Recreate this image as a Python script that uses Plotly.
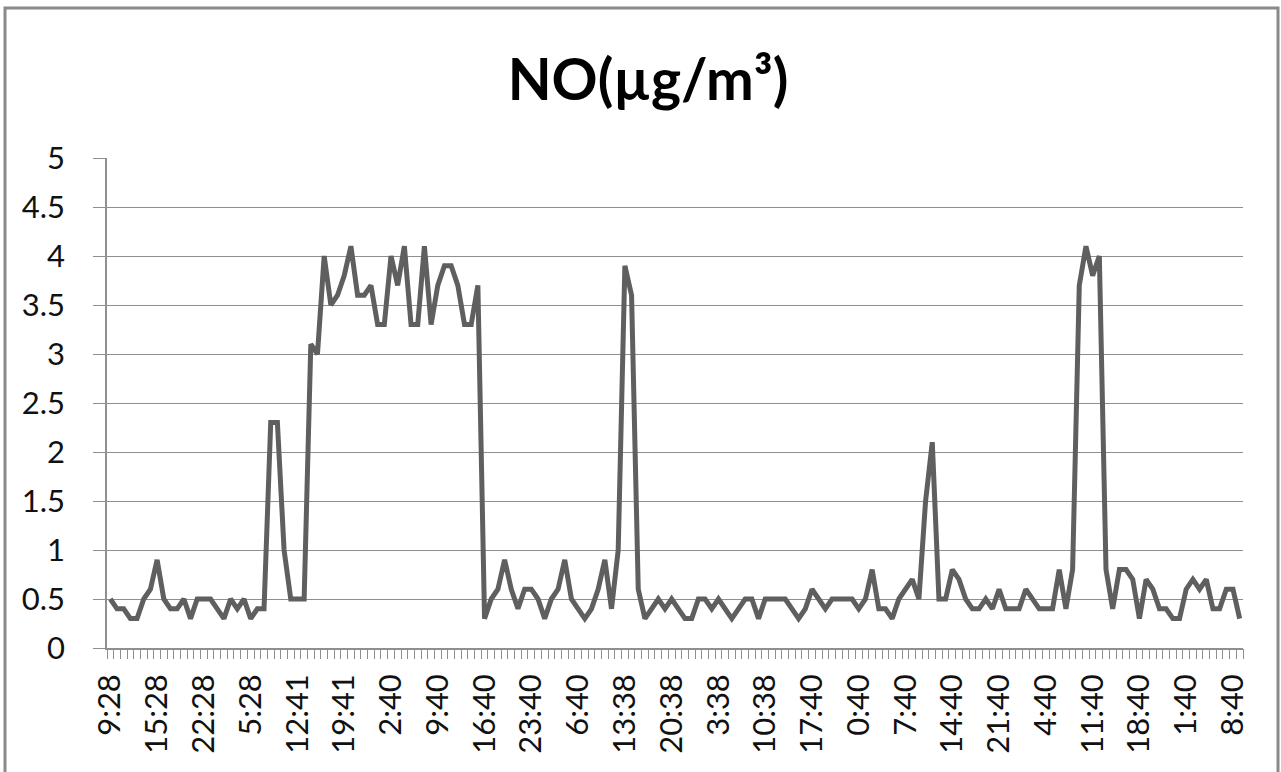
import plotly.graph_objects as go

# Tick labels shown every 7th hourly category
tick_labels = ["9:28", "15:28", "22:28", "5:28", "12:41", "19:41", "2:40", "9:40",
               "16:40", "23:40", "6:40", "13:38", "20:38", "3:38", "10:38", "17:40",
               "0:40", "7:40", "14:40", "21:40", "4:40", "11:40", "18:40", "1:40", "8:40"]
label_step = 7

# NO concentration (µg/m³), one value per hourly category
no_values = [
    0.5, 0.4, 0.4, 0.3, 0.3, 0.5, 0.6, 0.9, 0.5, 0.4,
    0.4, 0.5, 0.3, 0.5, 0.5, 0.5, 0.4, 0.3, 0.5, 0.4,
    0.5, 0.3, 0.4, 0.4, 2.3, 2.3, 1.0, 0.5, 0.5, 0.5,
    3.1, 3.0, 4.0, 3.5, 3.6, 3.8, 4.1, 3.6, 3.6, 3.7,
    3.3, 3.3, 4.0, 3.7, 4.1, 3.3, 3.3, 4.1, 3.3, 3.7,
    3.9, 3.9, 3.7, 3.3, 3.3, 3.7, 0.3, 0.5, 0.6, 0.9,
    0.6, 0.4, 0.6, 0.6, 0.5, 0.3, 0.5, 0.6, 0.9, 0.5,
    0.4, 0.3, 0.4, 0.6, 0.9, 0.4, 1.0, 3.9, 3.6, 0.6,
    0.3, 0.4, 0.5, 0.4, 0.5, 0.4, 0.3, 0.3, 0.5, 0.5,
    0.4, 0.5, 0.4, 0.3, 0.4, 0.5, 0.5, 0.3, 0.5, 0.5,
    0.5, 0.5, 0.4, 0.3, 0.4, 0.6, 0.5, 0.4, 0.5, 0.5,
    0.5, 0.5, 0.4, 0.5, 0.8, 0.4, 0.4, 0.3, 0.5, 0.6,
    0.7, 0.5, 1.5, 2.1, 0.5, 0.5, 0.8, 0.7, 0.5, 0.4,
    0.4, 0.5, 0.4, 0.6, 0.4, 0.4, 0.4, 0.6, 0.5, 0.4,
    0.4, 0.4, 0.8, 0.4, 0.8, 3.7, 4.1, 3.8, 4.0, 0.8,
    0.4, 0.8, 0.8, 0.7, 0.3, 0.7, 0.6, 0.4, 0.4, 0.3,
    0.3, 0.6, 0.7, 0.6, 0.7, 0.4, 0.4, 0.6, 0.6, 0.3,
]

n = len(no_values)
x_idx = list(range(n))
tick_positions = [i * label_step for i in range(len(tick_labels))]

W, H = 1281, 772
L, R, T, B = 107, 38, 158, 124
pw, ph = W - L - R, H - T - B

FONT = "Lato, 'Open Sans', sans-serif"
GRID = "#8f8f8f"

fig = go.Figure()
fig.add_trace(go.Scatter(
    x=x_idx, y=no_values, mode="lines",
    line=dict(color="#5f5f5f", width=5),
    hoverinfo="y", showlegend=False,
))
# empty helper trace so the category tick-mark axis is drawn
fig.add_trace(go.Scatter(x=[], y=[], xaxis="x2", yaxis="y",
                         showlegend=False, hoverinfo="skip"))

fig.update_layout(
    width=W, height=H, autosize=False,
    margin=dict(l=L, r=R, t=T, b=B),
    paper_bgcolor="white", plot_bgcolor="white",
    title=dict(text="<b>NO(µg/m³)</b>", xref="container", x=648 / W,
               xanchor="center", y=1 - 80 / H, yanchor="middle",
               font=dict(family=FONT, size=57, color="#000000")),
    xaxis=dict(
        range=[-0.5, n - 0.5], tickmode="array",
        tickvals=tick_positions, ticktext=tick_labels,
        tickangle=-90, ticks="", showgrid=False, zeroline=False,
        showline=True, linecolor=GRID, linewidth=1.5,
        ticklabelstandoff=12,
        tickfont=dict(family=FONT, size=31, color="#111111"),
    ),
    xaxis2=dict(
        overlaying="x", anchor="y", side="bottom",
        range=[-0.5, n - 0.5], tickmode="linear", tick0=-0.5, dtick=1,
        ticks="outside", ticklen=10, tickwidth=1, tickcolor=GRID,
        showticklabels=False, showgrid=False, zeroline=False, showline=False,
    ),
    yaxis=dict(
        range=[0, 5], tickmode="linear", tick0=0, dtick=0.5,
        showgrid=True, gridcolor=GRID, gridwidth=1.3,
        ticks="outside", ticklen=12, tickcolor=GRID, tickwidth=1.3,
        showline=True, linecolor=GRID, linewidth=1.5, zeroline=False,
        ticklabelstandoff=22,
        tickfont=dict(family=FONT, size=31, color="#111111"),
    ),
    shapes=[dict(
        type="rect", xref="paper", yref="paper",
        x0=(5 - L) / pw, x1=(1278 - L) / pw,
        y0=(H - B - 800) / ph, y1=(H - B - 8) / ph,
        line=dict(color="#8a8a8a", width=3), fillcolor="rgba(0,0,0,0)",
        layer="below",
    )],
)

fig.write_html("out.html")
